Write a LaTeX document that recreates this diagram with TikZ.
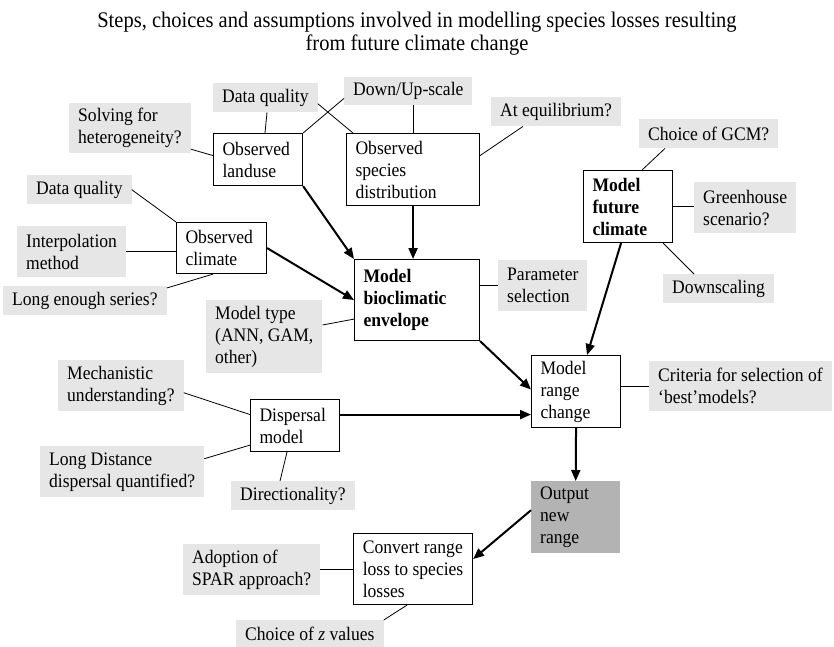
\documentclass[tikz,border=0pt]{standalone}
\usepackage{fontspec}
\setmainfont[FakeStretch=0.92]{Liberation Serif}
\usepackage{tikz}
\usetikzlibrary{calc,arrows.meta}
\definecolor{labelgrey}{HTML}{E6E6E6}
\definecolor{outgrey}{HTML}{B3B3B3}
\newcommand{\diagfont}{\fontsize{19.1}{22}\selectfont}
\tikzset{
  stepbox/.style={draw=black, line width=1.1pt, fill=white, anchor=north west,
    align=left, inner xsep=9pt, inner ysep=0pt, font=\diagfont},
  outbox/.style={fill=outgrey, anchor=north west, align=left,
    inner xsep=9pt, inner ysep=0pt, font=\diagfont},
  choice/.style={fill=labelgrey, anchor=north west, align=left,
    inner xsep=9pt, inner ysep=0pt, font=\diagfont},
  link/.style={draw=black, line width=0.8pt},
  flow/.style={-{Triangle[length=11pt,width=9pt]}, draw=black, line width=2pt},
  titletext/.style={align=center, font=\fontsize{22.3}{23}\selectfont}
}

\begin{document}
\begin{tikzpicture}[x=1pt,y=-1pt]
  % 1 unit = 1 px of the original figure, y runs downwards
  \useasboundingbox (0,0) rectangle (834,646);

  \node[titletext] (title) at (417,34) {Steps, choices and assumptions involved in modelling species losses resulting\\from future climate change};

  % steps
  \node[stepbox, text width=71pt, minimum height=52pt] (lu) at (213,133) {Observed\\landuse};
  \node[stepbox, text width=115pt, minimum height=72pt] (sd) at (346,133) {Observed\\species\\distribution};
  \node[stepbox, text width=72pt, minimum height=51pt] (oc) at (176,222) {Observed\\climate};
  \node[stepbox, text width=107pt, minimum height=81pt] (be) at (354,259) {\textbf{Model}\\\textbf{bioclimatic}\\\textbf{envelope}};
  \node[stepbox, text width=71pt, minimum height=72pt] (fc) at (583,170) {\textbf{Model}\\\textbf{future}\\\textbf{climate}};
  \node[stepbox, text width=71pt, minimum height=72pt] (rc) at (531,355) {Model\\range\\change};
  \node[outbox, text width=71pt, minimum height=72pt] (out) at (531,481) {Output\\new\\range};
  \node[stepbox, text width=71pt, minimum height=52pt] (dm) at (250,399) {Dispersal\\model};
  \node[stepbox, minimum width=119pt, minimum height=71pt, inner xsep=8pt] (cv) at (353,533) {Convert range\\loss to species\\losses};

  % choices and assumptions
  \node[choice, minimum height=29pt] (dq1) at (213,83) {Data quality};
  \node[choice, minimum height=28pt] (dus) at (344,77) {Down/Up-scale};
  \node[choice, minimum height=50pt] (sh) at (69,103) {Solving for\\heterogeneity?};
  \node[choice, minimum height=29pt] (ae) at (491,97) {At equilibrium?};
  \node[choice, minimum height=29pt] (gcm) at (639,119) {Choice of GCM?};
  \node[choice, minimum height=51pt] (gh) at (694,182) {Greenhouse\\scenario?};
  \node[choice, minimum height=29pt] (ds) at (663,274) {Downscaling};
  \node[choice, minimum height=51pt] (ps) at (498,260) {Parameter\\selection};
  \node[choice, minimum height=29pt] (dq2) at (27,175) {Data quality};
  \node[choice, minimum height=51pt] (im) at (17,226) {Interpolation\\method};
  \node[choice, minimum height=29pt] (le) at (3,286) {Long enough series?};
  \node[choice, minimum height=73pt] (mt) at (206,300) {Model type\\(ANN, GAM,\\other)};
  \node[choice, minimum height=51pt] (mu) at (58,360) {Mechanistic\\understanding?};
  \node[choice, minimum height=51pt] (ld) at (40,446) {Long Distance\\dispersal quantified?};
  \node[choice, minimum height=29pt] (dir) at (231,481) {Directionality?};
  \node[choice, minimum height=50pt] (cr) at (649,361) {Criteria for selection of\\`best'models?};
  \node[choice, minimum height=51pt] (sp) at (183,544) {Adoption of\\SPAR approach?};
  \node[choice, minimum height=28pt] (cz) at (236,620) {Choice of \textit{z} values};

  % thin links
  \draw[link] ([xshift=54pt]dq1.south west) -- ([xshift=52pt]lu.north west);
  \draw[link] ([yshift=-21pt]sh.east) -- ([yshift=4pt]lu.west);
  \draw[link] ([yshift=7pt]dus.south west) -- (lu.north east);
  \draw[link] ([yshift=-6pt]dq1.east) -- ([xshift=7pt]sd.north west);
  \draw[link] (dus.south -| sd.north) -- (sd.north);
  \draw[link] ([xshift=32pt]ae.south west) -- ([yshift=14pt]sd.east);
  \draw[link] ([xshift=26pt]gcm.south west) -- ([xshift=14pt]fc.north);
  \draw[link] (fc.east) -- (fc.east -| gh.west);
  \draw[link] ([xshift=-10pt]fc.south east) -- ([xshift=31pt]ds.north west);
  \draw[link] (ps.west) -- (ps.west -| be.east);
  \draw[link] (dq2.east) -- (oc.north west);
  \draw[link] (im.east) -- (im.east -| oc.west);
  \draw[link] ([yshift=-2pt]le.north east) -- ([xshift=37pt]oc.south west);
  \draw[link] ([yshift=-25pt]mt.north east) -- ([yshift=22pt]be.south west);
  \draw[link] ([yshift=-7pt]mu.east) -- ([yshift=11pt]dm.west);
  \draw[link] ([yshift=13pt]ld.east) -- ([yshift=7pt]dm.south west);
  \draw[link] ([xshift=49pt]dir.north west) -- ([xshift=37pt]dm.south west);
  \draw[link] (cr.west) -- (cr.west -| rc.east);
  \draw[link] (sp.east) -- (sp.east -| cv.west);
  \draw[link] (cz.north east) -- ([xshift=54pt]cv.south west);

  % main flow
  \draw[flow] (lu.south east) -- (be.north west);
  \draw[flow] (sd.south) -- (sd.south |- be.north);
  \draw[flow] (oc.east) -- (be.west);
  \draw[flow] (be.south east) -- ([yshift=2pt]rc.west);
  \draw[flow] ([yshift=11pt]dm.east) -- ([yshift=11pt]dm.east -| rc.west);
  \draw[flow] ([xshift=-7pt]fc.south) -- ([xshift=11pt]rc.north);
  \draw[flow] (rc.south) -- (out.north);
  \draw[flow] ([yshift=7pt]out.west) -- ([yshift=10pt]cv.east);
\end{tikzpicture}
\end{document}
